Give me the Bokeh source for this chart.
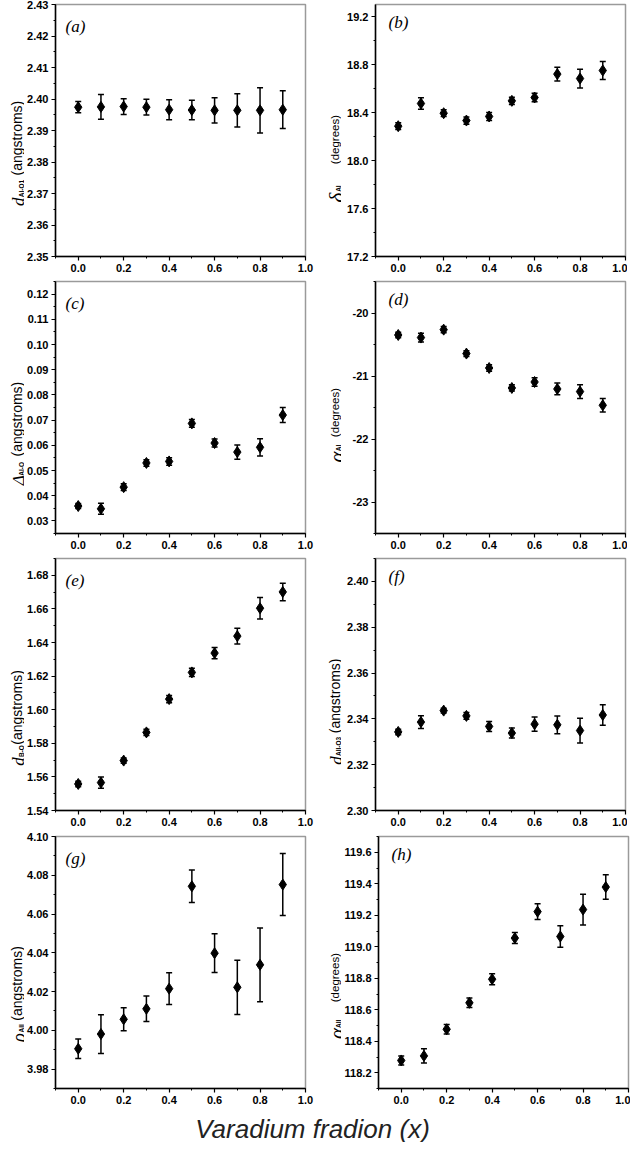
import math
from bokeh.plotting import figure
from bokeh.models import (ColumnDataSource, Whisker, TeeHead, Label, Range1d,
                          FixedTicker, PrintfTickFormatter)
from bokeh.layouts import column, row
from bokeh.embed import file_html
from bokeh.resources import INLINE

# ---------------- data ----------------
x_frac = [0.0, 0.1, 0.2, 0.3, 0.4, 0.5, 0.6, 0.7, 0.8, 0.9]

a_val = [2.3974, 2.3975, 2.3976, 2.3974, 2.3966, 2.3965, 2.3964, 2.3964, 2.3964, 2.3966]
a_err = [0.0018, 0.0039, 0.0025, 0.0025, 0.0032, 0.0031, 0.0040, 0.0053, 0.0072, 0.0060]

b_val = [18.286, 18.475, 18.394, 18.333, 18.367, 18.497, 18.525, 18.720, 18.683, 18.750]
b_err = [0.028, 0.047, 0.028, 0.030, 0.033, 0.030, 0.036, 0.058, 0.078, 0.075]

c_val = [0.0359, 0.0348, 0.0434, 0.0530, 0.0536, 0.0687, 0.0609, 0.0573, 0.0592, 0.0720]
c_err = [0.0010, 0.0022, 0.0013, 0.0013, 0.0015, 0.0015, 0.0016, 0.0028, 0.0034, 0.0030]

d_val = [-20.349, -20.390, -20.264, -20.644, -20.873, -21.190, -21.095, -21.206, -21.248, -21.465]
d_err = [0.042, 0.070, 0.050, 0.045, 0.050, 0.050, 0.069, 0.093, 0.110, 0.108]

e_val = [1.5558, 1.5566, 1.5697, 1.5865, 1.6063, 1.6222, 1.6337, 1.6438, 1.6604, 1.6701]
e_err = [0.0016, 0.0034, 0.0016, 0.0018, 0.0022, 0.0025, 0.0033, 0.0047, 0.0064, 0.0052]

f_val = [2.3343, 2.3386, 2.3436, 2.3413, 2.3367, 2.3338, 2.3377, 2.3374, 2.3349, 2.3417]
f_err = [0.0012, 0.0028, 0.0010, 0.0015, 0.0022, 0.0022, 0.0031, 0.0039, 0.0054, 0.0045]

g_val = [3.9905, 3.9981, 4.0057, 4.0111, 4.0215, 4.0743, 4.0398, 4.0222, 4.0338, 4.0752]
g_err = [0.0050, 0.0100, 0.0059, 0.0066, 0.0082, 0.0084, 0.0100, 0.0140, 0.0190, 0.0160]

h_val = [118.278, 118.307, 118.476, 118.644, 118.794, 119.055, 119.223, 119.065, 119.236, 119.379]
h_err = [0.028, 0.045, 0.030, 0.030, 0.035, 0.035, 0.050, 0.068, 0.098, 0.078]

x_ticks = [0.0, 0.2, 0.4, 0.6, 0.8, 1.0]
x_minor = [-0.1, 0.0, 0.1, 0.2, 0.3, 0.4, 0.5, 0.6, 0.7, 0.8, 0.9, 1.0]
x_limits = (-0.1, 1.0)

a_ticks = [2.35, 2.36, 2.37, 2.38, 2.39, 2.40, 2.41, 2.42, 2.43]
b_ticks = [17.2, 17.6, 18.0, 18.4, 18.8, 19.2]
c_ticks = [0.03, 0.04, 0.05, 0.06, 0.07, 0.08, 0.09, 0.10, 0.11, 0.12]
d_ticks = [-23, -22, -21, -20]
e_ticks = [1.54, 1.56, 1.58, 1.60, 1.62, 1.64, 1.66, 1.68]
f_ticks = [2.30, 2.32, 2.34, 2.36, 2.38, 2.40]
g_ticks = [3.98, 4.00, 4.02, 4.04, 4.06, 4.08, 4.10]
h_ticks = [118.2, 118.4, 118.6, 118.8, 119.0, 119.2, 119.4, 119.6]

a_lim = (2.35, 2.43)
b_lim = (17.2, 19.3)
c_lim = (0.025, 0.125)
d_lim = (-23.5, -19.5)
e_lim = (1.54, 1.69)
f_lim = (2.30, 2.41)
g_lim = (3.97, 4.10)
h_lim = (118.1, 119.7)

panel_letters = ["(a)", "(b)", "(c)", "(d)", "(e)", "(f)", "(g)", "(h)"]
y_symbols = ["d", "\u03b4", "\u0394", "\u03b1", "d", "d", "\u03c1", "\u03b1"]
y_subs = ["AI-O1", "AI", "AI-O", "AI", "B-O", "AII-O3", "AII", "AII"]
y_units = ["(angstroms)", "(degrees)", "(angstroms)", "(degrees)",
           "(angstroms)", "(angstroms)", "(angstroms)", "(degrees)"]
x_title = "Varadium fradion (x)"

# ---------------- layout / style ----------------
FH = 252
LEFT = dict(lab=24, fw=250, bl=28, br=10, sym=18, sub=21, unit=16)
RIGHT = dict(lab=26, fw=250, bl=34, br=2, sym=21, sub=23, unit=19)
TICK_FONT = "Liberation Sans"


def make_minor(ticks, lim):
    step = (ticks[1] - ticks[0]) / 2.0
    out = []
    v = ticks[0] - step * 4
    while v <= lim[1] + 1e-9:
        if v >= lim[0] - 1e-9:
            out.append(round(v, 6))
        v += step
    return out


def strip(fw, fh, top, bottom):
    f = figure(frame_width=fw, frame_height=fh, x_range=Range1d(0, fw),
               y_range=Range1d(0, fh), min_border_left=0, min_border_right=0,
               min_border_top=top, min_border_bottom=bottom,
               x_axis_location=None, y_axis_location=None,
               toolbar_location=None, tools="", output_backend="svg")
    f.xgrid.visible = False
    f.ygrid.visible = False
    f.outline_line_color = None
    return f


def build(i, vals, errs, ticks, lim, fmt, side, top_border, bottom_border,
          sym_frac, unit_frac, sym_size, unit_size):
    geo = LEFT if side == "L" else RIGHT
    p = figure(frame_width=geo["fw"], frame_height=FH,
               min_border_left=geo["bl"], min_border_right=geo["br"],
               min_border_top=top_border, min_border_bottom=bottom_border,
               x_range=Range1d(*x_limits), y_range=Range1d(*lim),
               toolbar_location=None, tools="", output_backend="svg",
               background_fill_color="white", border_fill_color="white")
    p.xgrid.visible = False
    p.ygrid.visible = False
    p.outline_line_color = "#9a9a9a"
    p.outline_line_width = 1.5

    p.xaxis.ticker = FixedTicker(ticks=x_ticks, minor_ticks=x_minor)
    p.xaxis.formatter = PrintfTickFormatter(format="%.1f")
    p.yaxis.ticker = FixedTicker(ticks=ticks, minor_ticks=make_minor(ticks, lim))
    p.yaxis.formatter = PrintfTickFormatter(format=fmt)
    for ax in (p.xaxis[0], p.yaxis[0]):
        ax.axis_line_width = 1.5
        ax.axis_line_color = "black"
        ax.major_tick_out = 4
        ax.major_tick_in = 0
        ax.minor_tick_out = 2
        ax.minor_tick_in = 0
        ax.major_tick_line_width = 1.2
        ax.minor_tick_line_width = 1
        ax.major_label_text_font = TICK_FONT
        ax.major_label_text_font_style = "bold"
        ax.major_label_text_font_size = "11px"
        ax.major_label_text_color = "black"
        ax.major_label_standoff = 3

    src = ColumnDataSource(dict(
        x=x_frac, y=vals,
        upper=[v + e for v, e in zip(vals, errs)],
        lower=[v - e for v, e in zip(vals, errs)]))
    w = Whisker(source=src, base="x", upper="upper", lower="lower",
                line_color="black", line_width=1.5,
                upper_head=TeeHead(size=6, line_width=1.5, line_color="black"),
                lower_head=TeeHead(size=6, line_width=1.5, line_color="black"))
    p.add_layout(w)
    p.scatter("x", "y", source=src, marker="diamond", size=11,
              fill_color="black", line_color="black")

    fw = geo["fw"]
    xs, xe = x_limits
    ys, ye = lim

    # panel letter (inside the frame)
    lx = 10 if side == "L" else 13
    ly = 22 if side == "L" else 18
    p.add_layout(Label(x=xs + lx * (xe - xs) / fw,
                       y=ys + (FH - ly) * (ye - ys) / FH,
                       text=panel_letters[i],
                       text_font="Liberation Serif", text_font_style="italic",
                       text_font_size="17px", text_align="left",
                       text_baseline="middle", text_color="black"))

    # y label strip: narrow canvas to the left, frame aligned with the panel frame
    lab = strip(geo["lab"], FH, top_border, bottom_border)
    sym_y = sym_frac * FH
    lab.add_layout(Label(x=geo["sym"], y=sym_y, text=y_symbols[i], angle=math.pi / 2,
                         text_font="Liberation Serif", text_font_style="italic",
                         text_font_size=f"{sym_size}px", text_align="center",
                         text_baseline="alphabetic", text_color="black"))
    lab.add_layout(Label(x=geo["sub"], y=sym_y + 0.27 * sym_size, text=y_subs[i],
                         angle=math.pi / 2,
                         text_font=TICK_FONT, text_font_style="bold",
                         text_font_size="6.5px", text_align="left",
                         text_baseline="alphabetic", text_color="black"))
    lab.add_layout(Label(x=geo["unit"], y=unit_frac * FH, text=y_units[i],
                         angle=math.pi / 2,
                         text_font=TICK_FONT, text_font_size=f"{unit_size}px",
                         text_align="center", text_baseline="alphabetic",
                         text_color="black"))
    return lab, p


la, pa = build(0, a_val, a_err, a_ticks, a_lim, "%.2f", "L", 4, 23, 0.217, 0.47, 17, 14)
lb, pb = build(1, b_val, b_err, b_ticks, b_lim, "%.1f", "R", 4, 23, 0.234, 0.464, 21, 11.5)
lc, pc = build(2, c_val, c_err, c_ticks, c_lim, "%.2f", "L", 2, 23, 0.211, 0.454, 17, 14)
ld, pd = build(3, d_val, d_err, d_ticks, d_lim, "%d", "R", 2, 23, 0.304, 0.48, 21, 11.5)
le, pe = build(4, e_val, e_err, e_ticks, e_lim, "%.2f", "L", 2, 22, 0.194, 0.409, 17, 14)
lf, pf = build(5, f_val, f_err, f_ticks, f_lim, "%.2f", "R", 2, 22, 0.198, 0.455, 17, 14)
lg, pg = build(6, g_val, g_err, g_ticks, g_lim, "%.2f", "L", 4, 23, 0.202, 0.417, 19, 14)
lh, ph = build(7, h_val, h_err, h_ticks, h_lim, "%.1f", "R", 4, 23, 0.218, 0.44, 21, 11.5)

# bottom title strip
pt = strip(624, 31, 0, 0)
pt.add_layout(Label(x=312, y=14, text=x_title, text_font=TICK_FONT,
                    text_font_style="italic", text_font_size="26px",
                    text_align="center", text_baseline="middle",
                    text_color="#222222"))

layout = column(row(la, pa, lb, pb), row(lc, pc, ld, pd),
                row(le, pe, lf, pf), row(lg, pg, lh, ph), pt)

open("out.html", "w").write(file_html(layout, INLINE))
